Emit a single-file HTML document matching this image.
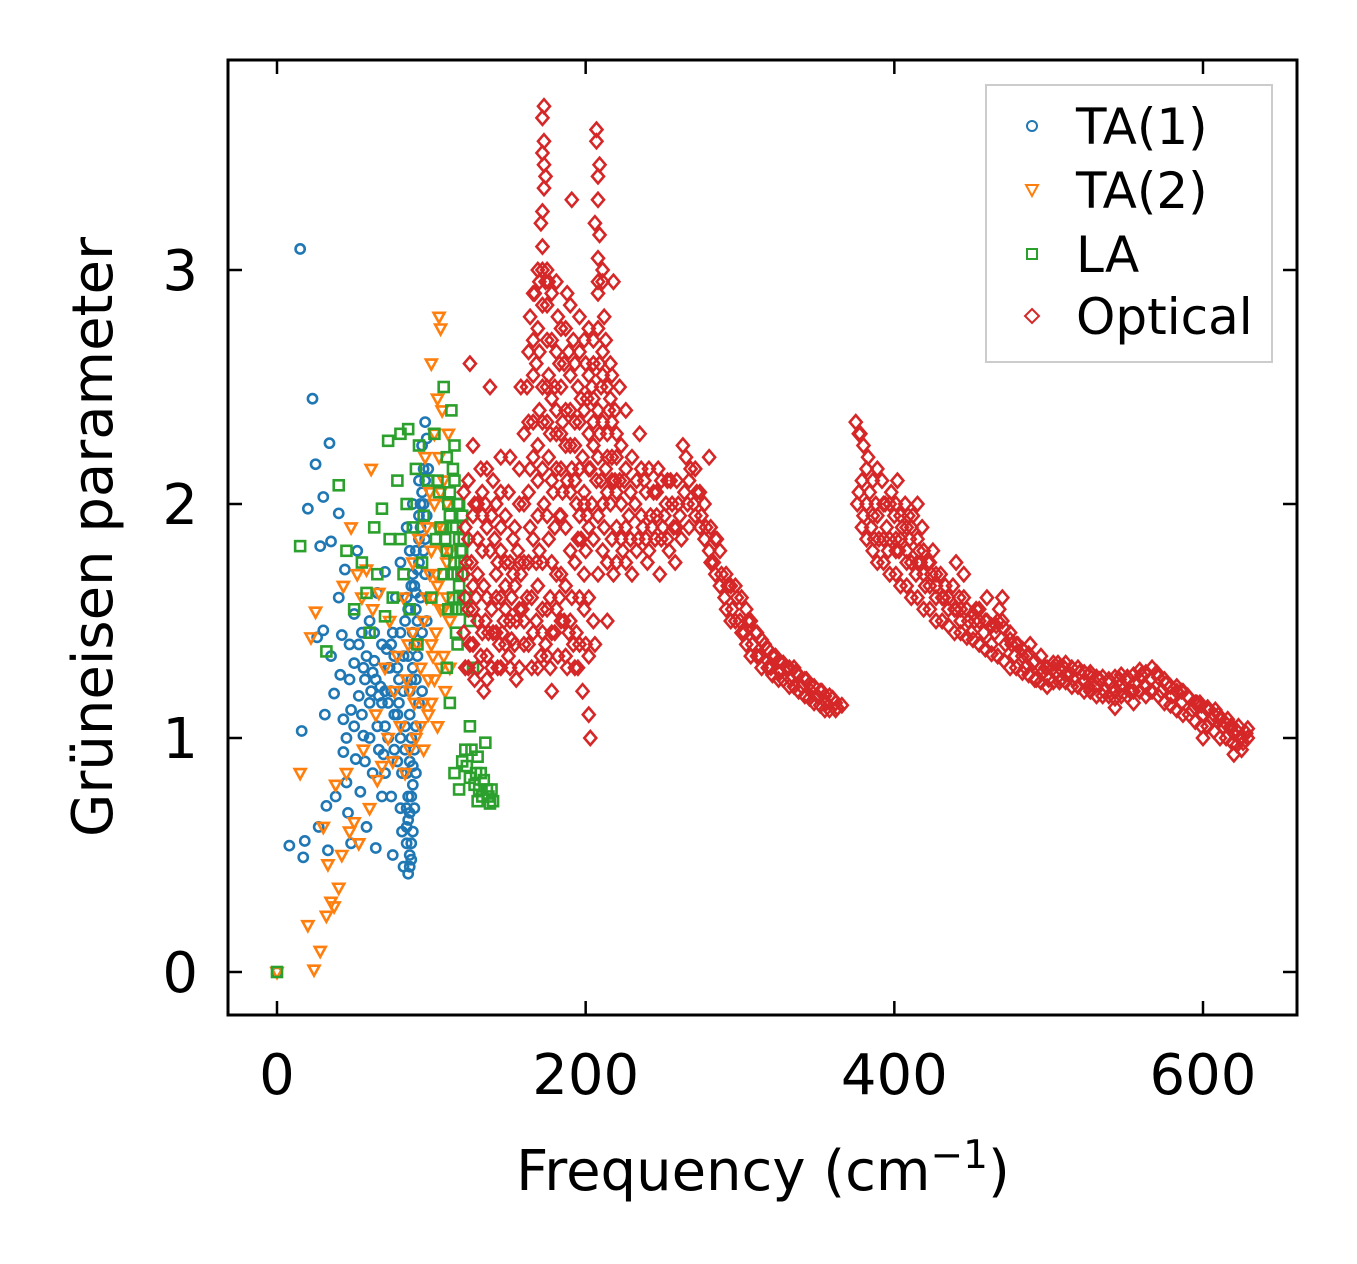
<!DOCTYPE html>
<html><head><meta charset="utf-8">
<style>
html,body{margin:0;padding:0;background:#fff;}
svg{display:block;font-family:"DejaVu Sans","Liberation Sans",sans-serif;}
</style></head>
<body>
<svg id="chart" width="1357" height="1264" viewBox="0 0 1357 1264" xmlns="http://www.w3.org/2000/svg">
<rect width="1357" height="1264" fill="#fff"/>
<g id="marks"></g>
<g id="axes"></g>
<text x="763" y="1190" font-size="56" text-anchor="middle">Frequency (cm<tspan dy="-22" font-size="39">−1</tspan><tspan dy="22">)</tspan></text>
<text transform="translate(112,537) rotate(-90)" font-size="56" text-anchor="middle">Grüneisen parameter</text>
<g>
<rect x="986" y="85" width="286" height="277" fill="#fff" stroke="#ccc" stroke-width="2"/>
<circle cx="1032" cy="126" r="5" fill="none" stroke="#1f77b4" stroke-width="2"/>
<text x="1076" y="144" font-size="50">TA(1)</text>
<path d="M1026,185 L1038,185 L1032,196 Z" fill="none" stroke="#ff7f0e" stroke-width="2"/>
<text x="1076" y="208" font-size="50">TA(2)</text>
<rect x="1027" y="249" width="10" height="10" fill="none" stroke="#2ca02c" stroke-width="2"/>
<text x="1076" y="272" font-size="50">LA</text>
<path d="M1032,309 L1039,316 L1032,323 L1025,316 Z" fill="none" stroke="#d62728" stroke-width="2"/>
<text x="1076" y="334" font-size="50">Optical</text>
</g>
</svg>
<script>
const xTicks=[0,200,400,600];
const yTicks=[0,1,2,3];
const ta1=[[0,0],[8,0.54],[15,3.09],[16,1.03],[17,0.49],[18,0.56],[20,1.98],[23,2.45],[25,2.17],[26,1.43],[27,0.62],[28,1.82],[30,1.46],[30,2.03],[31,1.1],[32,0.71],[33,0.52],[34,2.26],[35,1.84],[35,1.35],[37,1.19],[38,0.75],[40,1.96],[40,1.6],[41,1.27],[42,1.44],[43,1.08],[43,0.94],[44,1.72],[45,0.81],[46,0.68],[47,1.4],[48,1.12],[48,0.55],[50,1.53],[50,1.32],[51,0.91],[52,1.8],[53,1.18],[54,0.77],[55,1.45],[56,1.01],[57,1.25],[58,0.62],[60,1.5],[60,1.15],[62,0.85],[63,1.33],[64,0.53],[65,1.62],[65,1.05],[67,1.22],[68,1.4],[69,0.93],[70,1.71],[70,1.2],[72,1.0],[73,1.3],[74,0.75],[75,1.45],[75,0.5],[76,1.1],[77,1.6],[78,0.9],[78,1.3],[80,1.75],[80,1.0],[81,0.6],[82,1.2],[82,0.45],[83,1.5],[84,0.85],[84,1.9],[85,1.35],[85,0.65],[86,1.1],[87,1.65],[87,0.75],[88,2.0],[88,1.45],[89,0.95],[90,1.8],[90,1.25],[92,2.1],[93,1.6],[94,2.25],[95,2.0],[96,2.35],[97,1.95],[98,2.15],[96,1.7],[58,1.35],[62,1.28],[66,1.18],[71,1.38],[79,1.15],[86,1.55],[91,1.5],[84,0.55],[86,0.45],[80,0.7],
[70,0.85],[72,1.15],[74,1.4],[76,0.95],[79,1.25],[81,0.85],[83,1.05],[85,1.55],[86,0.5],[87,1.25],[88,0.8],[89,1.65],[90,1.05],[91,1.35],[92,1.75],[93,1.9],[94,1.45],[95,1.8],[96,2.1],[97,1.5],[88,0.6],[84,0.7],[86,0.9],[90,0.85],[92,1.15],[94,1.2],[80,1.45],[78,1.1],[66,0.95],[68,0.75],[63,1.45],[61,1.2],[57,0.9],[55,1.1],[53,1.4],[50,1.05],[47,1.25],[45,1.0],[82,1.35],[84,1.6],[86,1.8],[88,1.7],[90,1.55],[92,1.95],[94,2.05],[96,1.85],[83,0.95],[85,0.75],[87,0.55],[89,0.7],
[85,0.42],[87,0.48],[84,0.62],[86,0.68],[88,0.88],[87,1.0],[86,1.2],[88,1.3],[89,1.4],[90,1.62],[91,1.72],[92,1.85],[93,2.0],[95,2.15],[97,2.28],[76,1.35],[74,1.2],[72,1.3],[70,1.05],[68,1.15],[64,1.25],[60,1.0],[56,1.3]];
const ta2=[[0,0],[20,0.2],[22,1.43],[24,0.01],[25,1.54],[28,0.09],[30,0.62],[32,0.24],[33,0.46],[35,0.3],[37,0.28],[38,0.8],[40,0.36],[42,0.5],[43,1.65],[45,0.85],[47,0.6],[48,1.9],[50,0.64],[52,1.7],[53,0.55],[55,1.6],[56,0.95],[58,1.72],[60,0.7],[61,2.15],[62,1.55],[64,1.1],[65,0.82],[66,1.62],[68,0.88],[70,1.3],[72,1.0],[73,1.5],[75,0.9],[76,1.2],[78,1.35],[80,1.05],[82,1.6],[83,0.85],[85,1.4],[86,1.2],[88,1.75],[90,1.0],[92,1.85],[93,1.3],[95,1.5],[96,2.2],[97,1.9],[98,1.1],[99,2.05],[100,1.4],[100,2.6],[102,2.3],[102,1.25],[103,1.7],[104,2.45],[105,2.8],[106,1.55],[106,2.75],[107,1.9],[108,2.1],[108,1.35],[110,1.6],[110,2.0],[112,1.8],[112,1.3],[15,0.85],[100,1.15],[95,0.95],[104,1.05],
[100,1.8],[101,1.6],[103,1.45],[104,1.9],[105,2.2],[106,1.3],[107,2.4],[108,1.55],[109,1.2],[110,1.75],[111,2.3],[112,1.5],[98,1.25],[97,1.6],[95,1.15],[93,1.05],[91,1.4],[89,1.15],[88,1.45],[86,0.95],[84,1.25],[102,2.0],[104,1.65],[106,2.05],[108,1.8],[101,1.35],[99,1.7]];
const la=[[0,0],[15,1.82],[32,1.37],[40,2.08],[45,1.8],[50,1.55],[55,1.75],[58,1.62],[60,1.45],[63,1.9],[65,1.7],[68,1.98],[70,1.52],[72,2.27],[73,1.85],[75,1.6],[78,2.1],[80,1.85],[80,2.3],[82,1.7],[84,2.0],[85,2.32],[86,1.55],[88,1.9],[90,2.15],[91,1.4],[92,2.25],[94,1.75],[95,1.95],[98,2.1],[100,1.6],[102,2.3],[103,1.85],[105,2.05],[108,1.7],[108,2.5],[110,2.2],[111,1.55],[112,1.95],[113,2.4],[115,1.75],[115,2.1],[116,1.45],[118,1.85],[118,1.6],[120,1.95],[120,1.55],[122,1.6],[112,1.15],[115,0.85],[118,0.78],[120,0.9],[122,0.95],[125,1.05],[125,0.83],[128,0.8],[130,0.92],[130,0.73],[132,0.85],[133,0.75],[135,0.98],[136,0.78],[138,0.72],[140,0.73],[127,1.3],[125,1.5],[110,1.3],[117,1.7],[119,1.75],[114,1.9],
[110,1.8],[112,2.05],[114,1.6],[115,2.25],[116,1.9],[117,2.0],[118,1.65],[119,1.8],[120,1.7],[121,1.85],[113,1.7],[111,2.0],[109,1.85],[106,1.9],[104,2.1],[123,0.88],[126,0.95],[129,0.85],[131,0.78],[134,0.82],[137,0.75],[139,0.78],[114,2.15],[116,1.55],[118,2.0],[120,1.8],[117,1.4]];
const optical=[[122,1.3],[122,1.6],[122,1.9],[125,1.4],[125,2.6],[126,1.75],[128,2.0],[128,1.25],[130,1.5],[130,1.85],[132,2.15],[132,1.35],[134,1.65],[135,2.0],[136,1.25],[138,1.8],[138,2.5],[140,1.45],[140,2.1],[142,1.6],[143,1.3],[145,1.9],[145,2.2],[147,1.5],[148,1.75],[150,1.35],[150,2.05],[152,1.6],[153,1.85],[155,1.25],[155,1.5],[157,2.0],[158,1.7],[160,1.4],[160,2.3],[127,1.55],[133,1.95],[137,1.45],[143,1.75],[148,1.55],[152,1.42],[156,1.8],[144,1.4],[134,1.2],[158,2.5],
[162,1.6],[162,2.5],[164,2.8],[164,1.9],[165,1.3],[166,2.2],[167,2.9],[168,1.5],[168,2.6],[170,1.8],[170,2.4],[171,3.2],[172,3.5],[173,3.7],[173,2.0],[174,3.4],[174,1.4],[175,2.7],[175,3.0],[176,2.2],[177,1.6],[178,2.9],[178,1.2],[180,2.5],[180,1.9],[182,2.8],[182,1.35],[184,2.3],[184,1.7],[186,2.6],[186,1.5],[188,2.9],[188,2.1],[190,1.8],[190,2.4],[191,3.3],[192,1.4],[192,2.7],[194,2.0],[195,2.5],[196,1.6],[196,2.8],[198,2.2],[198,1.2],[200,2.6],[200,1.8],[202,2.3],[202,1.1],[203,1.0],[204,2.0],[205,2.7],[206,3.2],[207,3.6],[208,3.4],[208,1.7],[210,2.5],[210,2.1],[211,3.0],[212,1.9],[212,2.8],[214,2.3],[214,1.5],[216,2.0],[216,2.6],[218,1.7],[218,2.95],[220,2.2],[220,1.9],[222,2.5],[224,1.8],[225,2.1],[226,2.4],[228,1.95],[230,2.2],[230,1.7],
[166,2.55],[169,2.1],[172,2.35],[176,2.55],[179,2.05],[181,2.3],[183,2.6],[185,2.05],[187,2.4],[189,2.65],[193,2.25],[197,2.45],[199,2.0],[201,2.45],[203,2.15],[205,2.35],[207,2.1],[209,2.3],[211,2.55],[213,2.15],[215,2.4],[217,2.2],[219,2.4],[176,1.85],[183,1.95],[191,1.6],[197,1.85],[168,1.75],[172,1.55],[180,1.45],[188,1.3],[194,1.45],[206,1.4],
[232,2.0],[234,1.85],[235,2.3],[237,1.9],[238,2.1],[240,1.75],[242,1.95],[244,2.05],[245,1.85],[247,2.15],[248,1.7],[250,1.9],[252,2.0],[254,1.8],[255,2.1],[257,1.9],[258,1.75],[260,2.0],[262,1.85],[263,2.25],[265,2.2],[266,2.0],[268,2.15],[270,2.0],
[272,2.05],[275,1.95],[278,1.9],[280,1.8],[283,1.75],[285,1.85],[288,1.7],[290,1.6],[292,1.65],[295,1.55],[298,1.6],[300,1.5],[303,1.45],[305,1.5],[308,1.4],[310,1.45],[313,1.35],[316,1.4],[320,1.3],[323,1.35],[326,1.28],[330,1.3],[333,1.25],[336,1.28],[340,1.22],[343,1.25],[346,1.2],[350,1.18],[353,1.2],[356,1.15],[360,1.17],[363,1.13],[366,1.14],
[375,2.35],[378,2.3],[380,2.25],[383,2.2],[376,2.0],[380,1.95],[384,2.05],[385,1.9],[388,2.0],[390,1.85],[392,2.1],[395,1.9],[396,1.8],[398,2.05],[400,1.95],[402,2.1],[403,1.8],[405,1.9],[407,2.0],[408,1.75],[410,1.85],[412,1.95],[414,1.7],[416,1.8],[418,1.9],[420,1.65],[422,1.75],[425,1.8],[427,1.6],[430,1.7],[432,1.6],[435,1.55],[438,1.65],[440,1.55],[443,1.5],[445,1.6],[448,1.5],[450,1.45],[453,1.55],[455,1.5],[458,1.45],[460,1.5],[463,1.4],[465,1.45],[468,1.55],[470,1.5],[472,1.4],[475,1.45],[478,1.35],[480,1.4],[483,1.35],[485,1.3],[488,1.4],[490,1.32],[492,1.25],[495,1.35],[498,1.3],[500,1.25],[503,1.3],[505,1.28],[508,1.25],[510,1.3],[513,1.27],[516,1.25],[520,1.28],[523,1.24],[526,1.27],[530,1.22],[533,1.25],[536,1.2],[540,1.24],[543,1.2],[546,1.22],[550,1.25],[553,1.2],[556,1.23],[560,1.27],[563,1.22],[566,1.25],[570,1.28],[573,1.2],[576,1.23],[580,1.18],[583,1.2],[586,1.15],[590,1.18],[593,1.12],[596,1.15],[600,1.1],[603,1.13],[606,1.08],[610,1.1],[613,1.05],[616,1.08],[620,1.02],[623,1.05],[626,0.98],[628,1.02],
[460,1.6],[440,1.75],[445,1.7],[555,1.15],[543,1.13],[600,1.0],[620,0.93],[415,2.0],[470,1.6],[280,2.2],[387,1.85],[394,2.0],[401,1.85],[409,1.95],[417,1.75],[424,1.7],[433,1.65],[442,1.6],[452,1.5],[466,1.48],[476,1.4],[486,1.35],[496,1.28],[506,1.32],[526,1.22],[546,1.25],[566,1.2],[586,1.2],[598,1.15],[608,1.12],[618,1.05],[624,1.0],
[121,1.45],[121,1.7],[121,2.05],[124,1.3],[124,1.55],[124,1.85],[124,2.1],[127,1.4],[127,1.65],[127,1.95],[127,2.25],[130,1.3],[130,1.7],[130,2.0],[133,1.45],[133,1.8],[133,2.05],[136,1.35],[136,1.6],[136,1.9],[136,2.15],[139,1.3],[139,1.55],[139,1.95],[142,1.45],[142,1.7],[142,2.0],[145,1.3],[145,1.6],[145,1.8],[145,2.05],[148,1.4],[148,1.65],[148,1.95],[151,1.3],[151,1.5],[151,1.75],[151,2.2],[154,1.4],[154,1.65],[154,1.9],[157,1.3],[157,1.55],[157,1.75],[157,2.15],[160,1.5],[160,1.75],[160,2.0],
[163,1.4],[163,1.75],[163,2.05],[163,2.35],[163,2.65],[166,1.45],[166,1.85],[166,2.35],[166,2.7],[166,2.9],[169,1.3],[169,1.65],[169,1.95],[169,2.25],[169,2.75],[169,3.0],[172,1.45],[172,1.75],[172,2.15],[172,2.5],[172,2.85],[175,1.35],[175,1.55],[175,1.95],[175,2.35],[175,2.5],[175,2.85],[178,1.45],[178,1.75],[178,2.1],[178,2.45],[178,2.7],[181,1.55],[181,1.7],[181,2.15],[181,2.4],[181,2.65],[181,2.95],[184,1.5],[184,1.95],[184,2.15],[184,2.5],[184,2.75],[187,1.35],[187,1.65],[187,1.9],[187,2.25],[187,2.75],[190,1.5],[190,2.05],[190,2.25],[190,2.55],[190,2.85],[193,1.3],[193,1.75],[193,2.1],[193,2.35],[193,2.6],[196,1.4],[196,1.95],[196,2.15],[196,2.35],[196,2.65],[199,1.55],[199,1.7],[199,2.05],[199,2.4],[199,2.7],[202,1.35],[202,1.6],[202,1.9],[202,2.15],[202,2.55],[202,2.75],[205,1.5],[205,1.85],[205,2.25],[205,2.45],[205,2.6],[208,1.95],[208,2.2],[208,2.4],[208,2.75],[208,2.9],[211,1.8],[211,2.0],[211,2.35],[211,2.65],[214,1.75],[214,2.05],[214,2.2],[214,2.5],[217,1.85],[217,2.1],[217,2.35],[217,2.55],[220,1.75],[220,2.05],[220,2.3],[223,1.85],[223,2.0],[223,2.25],[226,1.75],[226,1.9],[226,2.15],[229,1.85],[229,2.05],
[233,1.8],[233,2.1],[236,1.95],[236,2.15],[239,1.85],[239,2.05],[241,1.8],[241,2.15],[243,1.9],[246,1.95],[246,2.05],[249,1.85],[249,2.1],[251,1.95],[253,1.85],[253,2.1],[256,2.0],[259,1.9],[259,2.1],[261,1.95],[264,2.05],[267,2.1],[267,1.9],
[271,1.95],[271,2.15],[274,1.9],[274,2.05],[277,1.85],[277,2.0],[281,1.75],[281,1.9],[284,1.7],[284,1.85],[287,1.65],[287,1.8],[291,1.55],[291,1.7],[294,1.5],[294,1.65],[297,1.5],[297,1.65],[301,1.45],[301,1.6],[304,1.4],[304,1.55],[307,1.35],[307,1.5],[311,1.35],[311,1.45],[314,1.3],[314,1.42],[318,1.3],[318,1.38],[321,1.27],[321,1.35],[325,1.25],[325,1.33],[328,1.25],[328,1.32],[332,1.22],[332,1.3],[335,1.22],[335,1.3],[338,1.2],[338,1.27],[342,1.18],[342,1.25],[345,1.17],[345,1.23],[348,1.15],[348,1.22],[352,1.14],[352,1.2],[355,1.12],[355,1.18],[358,1.12],[358,1.18],[362,1.12],[362,1.15],
[377,2.05],[377,2.3],[379,1.9],[379,2.1],[382,1.85],[382,2.0],[382,2.15],[386,1.8],[386,1.95],[386,2.1],[389,1.75],[389,1.95],[389,2.15],[393,1.75],[393,1.85],[393,2.0],[397,1.7],[397,1.85],[397,2.0],[401,1.7],[401,1.8],[401,2.0],[404,1.65],[404,1.85],[404,1.95],[408,1.65],[408,1.8],[408,1.9],[411,1.6],[411,1.75],[411,1.9],[415,1.6],[415,1.75],[415,1.85],[419,1.55],[419,1.7],[419,1.8],[423,1.55],[423,1.65],[423,1.75],[427,1.5],[427,1.65],[427,1.7],[431,1.5],[431,1.6],[435,1.48],[435,1.6],[439,1.45],[439,1.55],[443,1.45],[443,1.55],[447,1.43],[447,1.55],[451,1.42],[451,1.53],[455,1.4],[455,1.55],[459,1.38],[459,1.5],[463,1.36],[463,1.48],[467,1.35],[467,1.5],[471,1.33],[471,1.47],[475,1.3],[475,1.42],[479,1.3],[479,1.4],[483,1.28],[483,1.38],[487,1.27],[487,1.36],[491,1.25],[491,1.33],[495,1.24],[495,1.3],[499,1.22],[499,1.3],[503,1.24],[503,1.32],[507,1.24],[507,1.3],[511,1.24],[511,1.32],[515,1.22],[515,1.3],[519,1.22],[519,1.3],[523,1.2],[523,1.28],[527,1.2],[527,1.28],[531,1.18],[531,1.26],[535,1.18],[535,1.26],[539,1.18],[539,1.25],[543,1.17],[543,1.26],[547,1.18],[547,1.27],[551,1.18],[551,1.26],[555,1.2],[555,1.27],[559,1.2],[559,1.29],[563,1.18],[563,1.28],[567,1.2],[567,1.3],[571,1.18],[571,1.26],[575,1.15],[575,1.25],[579,1.14],[579,1.22],[583,1.12],[583,1.22],[587,1.1],[587,1.2],[591,1.1],[591,1.17],[595,1.07],[595,1.15],[599,1.05],[599,1.14],[603,1.05],[603,1.12],[607,1.03],[607,1.1],[611,1.0],[611,1.08],[615,1.0],[615,1.06],[619,0.98],[619,1.05],[622,0.97],[622,1.03],[625,0.95],[625,1.0],[629,1.0],[629,1.04],
[172,3.0],[172,3.1],[172,3.25],[173,3.35],[173,3.45],[173,3.55],[172,3.65],[174,2.95],[208,2.95],[208,3.05],[209,3.15],[208,3.3],[209,3.45],[207,3.55],[170,2.95],[176,2.95],[211,2.95],[164,2.15],[170,2.65],[177,2.3],[185,2.35],[191,2.15],[195,1.85],[201,1.95],[204,2.5],[209,2.6],[213,2.7],[216,2.45],[219,2.1],[222,2.1],[165,1.6],[171,1.35],[177,1.3],[183,1.6],[189,1.45],[195,1.3],[200,1.4],[141,1.85],[146,1.45],[153,1.7],[159,1.55],[129,1.6],[135,1.5],[123,1.75]];

const X0=228,X1=1297,Y0=60,Y1=1015;
const sx=v=>277+v*(1203-277)/600;
const sy=v=>972-v*234;
const NS='http://www.w3.org/2000/svg';
const marks=document.getElementById('marks');
const axes=document.getElementById('axes');
function mk(tag,attrs,parent){const e=document.createElementNS(NS,tag);for(const k in attrs)e.setAttribute(k,attrs[k]);parent.appendChild(e);return e;}
function series(data,shape,color,name){
  const g=mk('g',{},marks);
  
  
  data.forEach(p=>{
    const x=sx(p[0]),y=sy(p[1]);let e;
    if(shape==='circle')e=mk('circle',{cx:x,cy:y,r:4.6},g);
    else if(shape==='tri')e=mk('path',{d:`M${x-5.5},${y-4} L${x+5.5},${y-4} L${x},${y+6} Z`},g);
    else if(shape==='square')e=mk('rect',{x:x-5,y:y-5,width:10,height:10},g);
    else e=mk('path',{d:`M${x},${y-7} L${x+6},${y} L${x},${y+7} L${x-6},${y} Z`},g);
    e.setAttribute('fill','none');e.setAttribute('stroke',color);e.setAttribute('stroke-width','2.6');
    
    
  });
}
series(ta1,'circle','#1f77b4','ta1');
series(ta2,'tri','#ff7f0e','ta2');
series(la,'square','#2ca02c','la');
series(optical,'diamond','#d62728','optical');

const frame=mk('rect',{x:X0,y:Y0,width:X1-X0,height:Y1-Y0,fill:'none',stroke:'#000','stroke-width':3},axes);


xTicks.forEach(t=>{
  const x=sx(t);
  mk('line',{x1:x,x2:x,y1:Y1,y2:Y1-14,stroke:'#000','stroke-width':2.5},axes);
  mk('line',{x1:x,x2:x,y1:Y0,y2:Y0+14,stroke:'#000','stroke-width':2.5},axes);
  const tx=mk('text',{x:x,y:1094,'font-size':56,'text-anchor':'middle'},axes);
  tx.textContent=t;
  
  
});
yTicks.forEach(t=>{
  const y=sy(t);
  mk('line',{x1:X0,x2:X0+14,y1:y,y2:y,stroke:'#000','stroke-width':2.5},axes);
  mk('line',{x1:X1,x2:X1-14,y1:y,y2:y,stroke:'#000','stroke-width':2.5},axes);
  const tx=mk('text',{x:198,y:y+20,'font-size':56,'text-anchor':'end'},axes);
  tx.textContent=t;
  
  
});
</script>
</body></html>
